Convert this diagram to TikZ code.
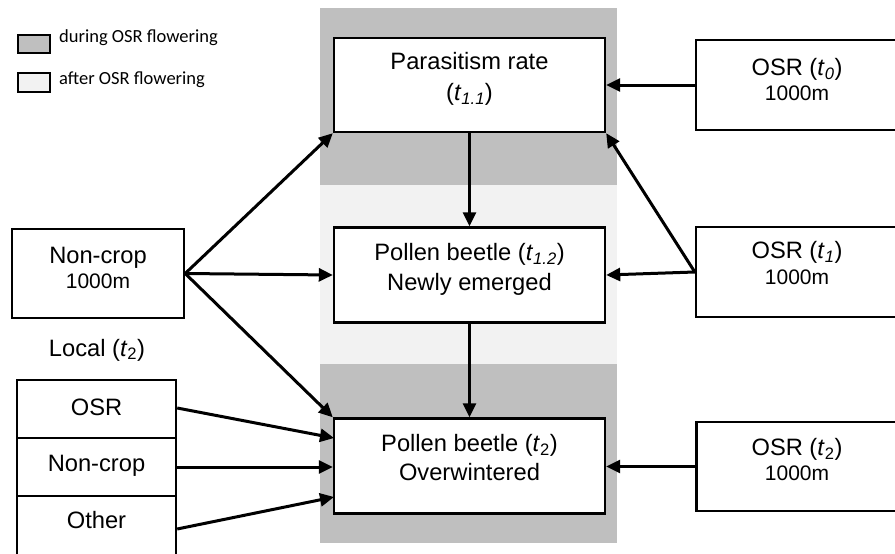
\documentclass[tikz,border=0pt]{standalone}
\usepackage{fontspec}
\setmainfont{Liberation Sans}
\newfontfamily\legfont{Carlito}
\usetikzlibrary{arrows.meta}
\definecolor{darkband}{HTML}{BFBFBF}
\definecolor{lightband}{HTML}{F2F2F2}
\newcommand\mainsz{\fontsize{23.7}{28}\selectfont}
\newcommand\smsz{\fontsize{21}{25}\selectfont}
\newcommand\tsub[1]{\textit{t}\textsubscript{#1}}
\tikzset{
  bx/.style={draw=black, line width=2.4pt, fill=white, inner sep=0pt, minimum width=271pt, minimum height=95pt},
  rbx/.style={draw=black, line width=2.4pt, fill=white, inner sep=0pt, minimum width=209pt, minimum height=90pt},
  lbx/.style={draw=black, line width=2.4pt, fill=white, inner sep=0pt, minimum width=159pt, minimum height=58pt},
  txt/.style={anchor=base, inner sep=0pt, font=\mainsz},
  stxt/.style={anchor=base, inner sep=0pt, font=\smsz},
  legtxt/.style={anchor=base west, inner sep=0pt, font=\legfont\fontsize{18.5}{22}\selectfont},
  legbox/.style={draw=black, line width=1.8pt, inner sep=0pt, minimum width=32pt, minimum height=18.5pt},
  arr/.style={line width=3pt, -{Triangle[length=14pt,width=13pt]}},
}
\begin{document}
\begin{tikzpicture}[x=1pt,y=-1pt]
\useasboundingbox (0,0) rectangle (895,554);
\clip (0,0) rectangle (895,554);
\fill[white] (0,0) rectangle (895,554);
% bands
\fill[darkband] (320,8) rectangle (617,185);
\fill[lightband] (320,185) rectangle (617,364);
\fill[darkband] (320,364) rectangle (617,543);
% legend
\node[legbox, fill=darkband] (leg1) at (34,44) {};
\node[legbox, fill=lightband] (leg2) at (34,82.5) {};
\node[legtxt] (leg1t) at (59,42.3) {during OSR flowering};
\node[legtxt] (leg2t) at (59,84) {after OSR flowering};
% central boxes
\node[bx, minimum height=94pt] (par) at (469.5,85) {};
\node[bx] (pol) at (469.5,275) {};
\node[bx] (ovw) at (469.5,466) {};
\node[txt] (part1) at (469.5,69) {Parasitism rate};
\node[txt] (part2) at (469.5,100.5) {(\tsub{\textit{1.1}})};
\node[txt] (polt1) at (469.5,260.5) {Pollen beetle (\tsub{\textit{1.2}})};
\node[txt] (polt2) at (469.5,290.5) {Newly emerged};
\node[txt] (ovwt1) at (469.5,451.5) {Pollen beetle (\tsub{2})};
\node[txt] (ovwt2) at (469.5,480.5) {Overwintered};
% right boxes
\node[rbx] (osr0) at (800.5,85) {};
\node[rbx] (osr1) at (800.5,272) {};
\node[rbx, minimum height=89pt] (osr2) at (801,466.5) {};
\node[txt] (osr0t1) at (797,75.5) {OSR (\tsub{\textit{0}})};
\node[stxt] (osr0t2) at (797,100) {1000m};
\node[txt] (osr1t1) at (797,258.5) {OSR (\tsub{\textit{1}})};
\node[stxt] (osr1t2) at (797,284.5) {1000m};
\node[txt] (osr2t1) at (797,455.5) {OSR (\tsub{2})};
\node[stxt] (osr2t2) at (797,480) {1000m};
% left boxes
\node[draw=black, line width=2.4pt, fill=white, inner sep=0pt, minimum width=172pt, minimum height=89pt] (nc) at (98,273.5) {};
\node[txt] (nct1) at (98,263.5) {Non-crop};
\node[stxt] (nct2) at (98,288) {1000m};
\node[txt] (loct) at (97,356) {Local (\tsub{2})};
\node[lbx] (losr) at (96.5,409) {};
\node[lbx] (lnc) at (96.5,467) {};
\node[lbx, minimum height=64pt] (loth) at (96.5,528) {};
\node[txt] (losrt) at (96.5,415.5) {OSR};
\node[txt] (lnct) at (96.5,471.5) {Non-crop};
\node[txt] (lotht) at (96.5,528.5) {Other};
% connectors
\coordinate (ncout) at (nc.east);
\coordinate (ovwin1) at (334,438);
\coordinate (ovwin3) at (334,497);
\draw[arr] (ncout) -- (par.south west);
\draw[arr] (ncout) -- (pol.west);
\draw[arr] (ncout) -- (ovw.north west);
\draw[arr] ([yshift=1pt]losr.east) -- (ovwin1);
\draw[arr] (lnc.east) -- (ovw.west |- lnc.east);
\draw[arr] ([yshift=-1pt]loth.east) -- (ovwin3);
\draw[arr] (par.south) -- (pol.north);
\draw[arr] (pol.south) -- (ovw.north);
\draw[arr] (osr0.west) -- (par.east |- osr0.west);
\coordinate (o1out) at (osr1.west);
\draw[arr] (o1out) -- (par.south east);
\draw[arr] (o1out) -- (pol.east);
\draw[arr] (osr2.west) -- (ovw.east |- osr2.west);
\end{tikzpicture}
\end{document}
